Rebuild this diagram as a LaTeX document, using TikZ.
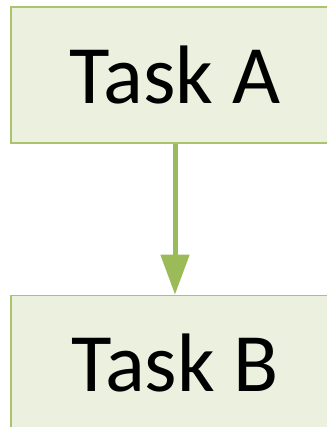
\documentclass[tikz,border=0pt]{standalone}
\usepackage{fontspec}
\setmainfont{Carlito}
\usetikzlibrary{positioning,arrows.meta}
\definecolor{boxfill}{HTML}{EBF1DE}
\definecolor{boxline}{HTML}{A9C46C}
\definecolor{arrowgreen}{HTML}{9BBB59}
\begin{document}
\begin{tikzpicture}[x=1pt, y=1pt,
  taskbox/.style={draw=boxline, line width=1.2pt, fill=boxfill, minimum width=328pt, minimum height=136pt, inner sep=0pt, font=\fontsize{83}{95}\selectfont},
  flow/.style={draw=arrowgreen, line width=5pt, -{Triangle[width=28pt, length=40pt]}}]
  \useasboundingbox (0,0) rectangle (326,-427);
  \node[taskbox] (taskA) at (175,-75) {Task A};
  \node[taskbox, below=151pt of taskA] (taskB) {Task B};
  \draw[flow] (taskA) -- (taskB);
\end{tikzpicture}
\end{document}
